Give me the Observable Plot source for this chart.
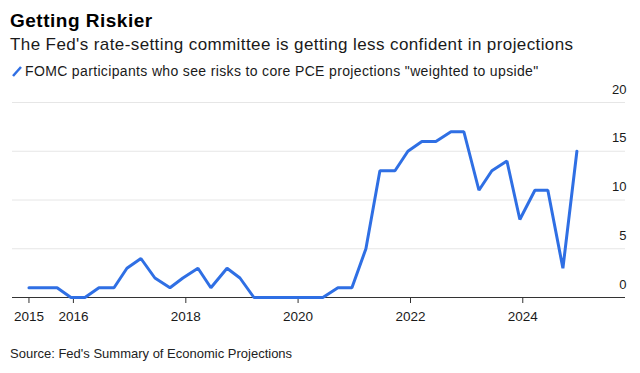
<!DOCTYPE html>
<html>
<head>
<meta charset="utf-8">
<script src="https://cdn.jsdelivr.net/npm/d3@7"></script>
<script src="https://cdn.jsdelivr.net/npm/@observablehq/plot@0.6"></script>
<style>
  html, body { margin: 0; padding: 0; background: #fff; }
  body { width: 640px; height: 373px; position: relative; overflow: hidden; font-family: "Liberation Sans", Arial, sans-serif; }
  .t { position: absolute; left: 10px; line-height: 1; white-space: nowrap; }
  #title { top: 10.6px; font-size: 19px; letter-spacing: 0.5px; font-weight: bold; color: #000; }
  #subtitle { top: 36.3px; font-size: 17px; letter-spacing: 0.4px; color: #1a1a1a; }
  #legend { top: 64.2px; left: 25px; font-size: 14px; letter-spacing: 0.35px; color: #1a1a1a; }
  #legicon { position: absolute; left: 0; top: 0; }
  #source { top: 347px; font-size: 13px; color: #222; }
  #chart { position: absolute; left: 0; top: 82px; }
</style>
</head>
<body>
<div id="title" class="t">Getting Riskier</div>
<div id="subtitle" class="t">The Fed's rate-setting committee is getting less confident in projections</div>
<svg id="legicon" width="30" height="82"><line x1="13" y1="76" x2="21" y2="67" stroke="#2f6fe4" stroke-width="2.5"/></svg>
<div id="legend" class="t">FOMC participants who see risks to core PCE projections "weighted to upside"</div>
<div id="chart"></div>
<div id="source" class="t">Source: Fed's Summary of Economic Projections</div>
<script>
const dates = ["2015-03-18","2015-06-17","2015-09-17","2015-12-16","2016-03-16","2016-06-15","2016-09-21","2016-12-14","2017-03-15","2017-06-14","2017-09-20","2017-12-13","2018-03-21","2018-06-13","2018-09-26","2018-12-19","2019-03-20","2019-06-19","2019-09-18","2019-12-11","2020-06-10","2020-09-16","2020-12-16","2021-03-17","2021-06-16","2021-09-22","2021-12-15","2022-03-16","2022-06-15","2022-09-21","2022-12-14","2023-03-22","2023-06-14","2023-09-20","2023-12-13","2024-03-20","2024-06-12","2024-09-18","2024-12-18"];
const values = [1,1,1,0,0,1,1,3,4,2,1,2,3,1,3,2,0,0,0,0,0,1,1,5,13,13,15,16,16,17,17,11,13,14,8,11,11,3,15];
const xTickDates = ["2015-03-18","2016-01-01","2018-01-01","2020-01-01","2022-01-01","2024-01-01"];
const xTickLabels = ["2015","2016","2018","2020","2022","2024"];
const yTicks = [0,5,10,15,20];
const xDomain = ["2014-12-01","2025-10-30"];

const data = dates.map((d, i) => ({date: new Date(d), value: values[i]}));
const xt = xTickDates.map(d => new Date(d));
const labelOf = new Map(xt.map((d, i) => [+d, xTickLabels[i]]));

const chart = Plot.plot({
  width: 640,
  height: 250,
  marginLeft: 12,
  marginRight: 15,
  marginTop: 20,
  marginBottom: 35,
  style: {fontFamily: "'Liberation Sans', Arial, sans-serif", background: "transparent"},
  x: {type: "utc", domain: xDomain.map(d => new Date(d))},
  y: {domain: [0, 20], axis: null},
  marks: [
    Plot.ruleY(yTicks.filter(d => d > 0), {stroke: "#e6e6e6", strokeWidth: 1}),
    Plot.ruleY([0], {stroke: "#333", strokeWidth: 1}),
    Plot.axisX({ticks: xt, tickFormat: d => labelOf.get(+d), tickSize: 6, tickPadding: 8, fontSize: 13.5, stroke: "#333", color: "#1a1a1a", label: null}),
    Plot.text(yTicks, {y: d => d, text: d => String(d), frameAnchor: "right", textAnchor: "end", lineAnchor: "bottom", dy: -9, dx: 1, fontSize: 13, fill: "#1a1a1a"}),
    Plot.line(data, {x: "date", y: "value", stroke: "#2f6fe4", strokeWidth: 3, strokeLinejoin: "miter"})
  ]
});
document.getElementById("chart").appendChild(chart);
</script>
</body>
</html>
